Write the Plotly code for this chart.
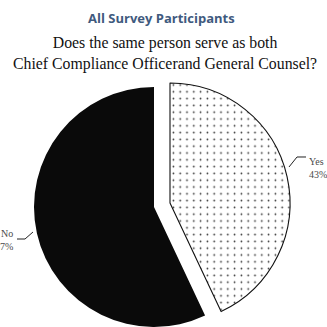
import plotly.graph_objects as go

# Survey answers
categories = ["Yes", "No"]
shares = [43, 57]

W = H = 327
TITLE = "All Survey Participants"
QUESTION = "Does the same person serve as both<br>Chief Compliance Officerand General Counsel?"


def px_x(v):
    return v / W


def px_y(v):
    return 1 - v / H


fig = go.Figure()

# Solid "No" slice (the "Yes" part is left invisible here)
fig.add_trace(go.Pie(
    labels=categories, values=shares, sort=False, direction="clockwise", rotation=0,
    textinfo="none", hoverinfo="label+percent", showlegend=False,
    marker=dict(colors=["rgba(0,0,0,0)", "#0a0a0a"],
                line=dict(color=["rgba(0,0,0,0)", "#0a0a0a"], width=[0, 0])),
    domain=dict(x=[px_x(34), px_x(274)], y=[px_y(327), px_y(87)]),
))

# Dotted "Yes" slice, shifted out from the pie
fig.add_trace(go.Pie(
    labels=categories, values=shares, sort=False, direction="clockwise", rotation=0,
    textinfo="none", hoverinfo="label+percent", showlegend=False,
    marker=dict(colors=["white", "rgba(0,0,0,0)"],
                line=dict(color=["#111111", "rgba(0,0,0,0)"], width=[1.1, 0]),
                pattern=dict(shape=[".", ""], fgcolor="#333333", bgcolor="white",
                             size=6.8, solidity=0.05, fillmode="replace")),
    domain=dict(x=[px_x(50), px_x(290)], y=[px_y(323), px_y(83)]),
))

serif = "Liberation Serif"
label_color = "#4a4a4a"

annotations = [
    dict(text=f"<b>{TITLE}</b>", x=px_x(161), y=px_y(18), xanchor="center", yanchor="middle",
         font=dict(family="Open Sans", size=13, color="#3f5a7e")),
    dict(text=QUESTION, x=px_x(165), y=px_y(53), xanchor="center", yanchor="middle",
         font=dict(family=serif, size=15.8, color="#111111")),
    dict(text=f"{categories[0]}<br>{shares[0]}%", x=px_x(307), y=px_y(168), xanchor="left",
         yanchor="middle", align="left", font=dict(family=serif, size=10, color=label_color)),
    dict(text=f"{categories[1]}<br>{shares[1]}%", x=px_x(15), y=px_y(240), xanchor="right",
         yanchor="middle", align="right", font=dict(family=serif, size=10, color=label_color)),
]
for a in annotations:
    a.update(xref="paper", yref="paper", showarrow=False)

# Leader lines from the slices to their labels
leaders = [
    [(289, 167), (297, 157), (306, 157)],
    [(33, 232), (25, 239), (17, 239)],
]
shapes = []
for pts in leaders:
    path = "M " + " L ".join(f"{px_x(x):.4f},{px_y(y):.4f}" for x, y in pts)
    shapes.append(dict(type="path", path=path, xref="paper", yref="paper",
                       line=dict(color="#222222", width=1)))

fig.update_layout(
    width=W, height=H, margin=dict(l=0, r=0, t=0, b=0),
    paper_bgcolor="white", plot_bgcolor="white",
    annotations=annotations, shapes=shapes,
)

fig.write_html("out.html")
